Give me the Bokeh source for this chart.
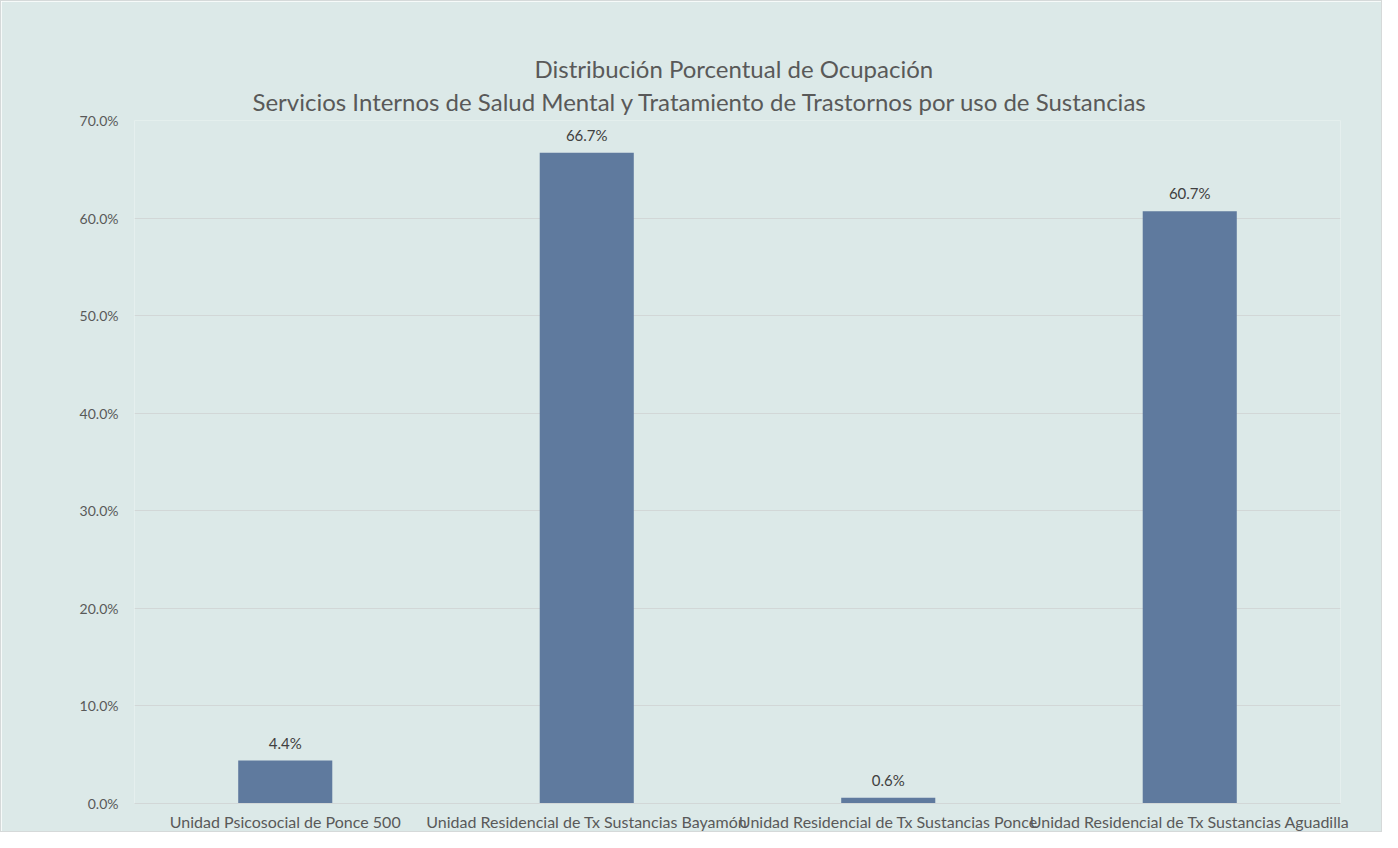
from bokeh.plotting import figure
from bokeh.models import ColumnDataSource, FactorRange, Range1d, Title, LabelSet, FixedTicker, PrintfTickFormatter
from bokeh.core.properties import value
from bokeh.embed import file_html
from bokeh.resources import INLINE

categories = [
    "Unidad Psicosocial de Ponce 500",
    "Unidad Residencial de Tx Sustancias Bayamón",
    "Unidad Residencial de Tx Sustancias Ponce",
    "Unidad Residencial de Tx Sustancias Aguadilla",
]
values = [4.4, 66.7, 0.6, 60.7]
value_labels = ["4.4%", "66.7%", "0.6%", "60.7%"]
y_ticks = [0, 10, 20, 30, 40, 50, 60, 70]
title_line1 = "Distribución Porcentual de Ocupación"
title_line2 = "Servicios Internos de Salud Mental y Tratamiento de Trastornos por uso de Sustancias"

BG = "#DCE9E8"
FONT = "Lato"

src = ColumnDataSource(dict(cat=categories, val=values, lab=value_labels))

p = figure(
    width=1382, height=832,
    x_range=FactorRange(*categories, range_padding=0),
    y_range=Range1d(0, 70),
    output_backend="svg", toolbar_location=None, title=None,
    min_border_left=133, min_border_right=43, min_border_top=119, min_border_bottom=20,
)
p.background_fill_color = BG
p.border_fill_color = BG
p.outline_line_color = None

p.vbar(x="cat", top="val", width=0.312, source=src, fill_color="#5F7A9E", line_color=None)

labels = LabelSet(x="cat", y="val", text="lab", source=src, text_align="center",
                  text_baseline="bottom", y_offset=9, text_font=value(FONT),
                  text_font_size="15px", text_color="#404040")
p.add_layout(labels)

t2 = Title(text=title_line2, align="left", text_font=FONT, text_font_size="24px",
           text_font_style="normal", text_color="#595959", offset=118, standoff=9)
t1 = Title(text=title_line1, align="left", text_font=FONT, text_font_size="24px",
           text_font_style="normal", text_color="#595959", offset=400, standoff=-5)
p.add_layout(t2, "above")
p.add_layout(t1, "above")

p.yaxis.ticker = FixedTicker(ticks=y_ticks)
p.yaxis.formatter = PrintfTickFormatter(format="%.1f%%")
p.yaxis.axis_line_color = None
p.yaxis.major_tick_line_color = None
p.yaxis.minor_tick_line_color = None
p.yaxis.major_tick_out = 0
p.yaxis.major_tick_in = 0
p.yaxis.minor_tick_out = 0
p.yaxis.major_label_standoff = 16
p.yaxis.major_label_text_font = FONT
p.yaxis.major_label_text_font_size = "14px"
p.yaxis.major_label_text_color = "#595959"

p.xaxis.axis_line_color = "#D2D7D7"
p.xaxis.major_tick_line_color = None
p.xaxis.minor_tick_line_color = None
p.xaxis.major_tick_out = 0
p.xaxis.major_tick_in = 0
p.xaxis.minor_tick_out = 0
p.xaxis.major_label_standoff = 8
p.xaxis.major_label_text_font = FONT
p.xaxis.major_label_text_font_size = "16px"
p.xaxis.major_label_text_color = "#595959"

p.xgrid.grid_line_color = None
p.ygrid.grid_line_color = "#D2D7D7"
p.ygrid.grid_line_width = 1

p.styles = {"border": "1px solid #D5D9D9"}

open("out.html", "w").write(file_html(p, INLINE))
